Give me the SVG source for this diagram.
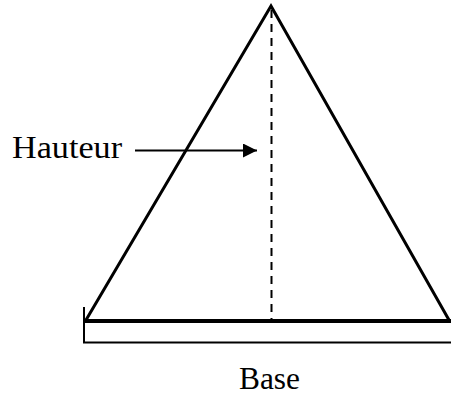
<svg xmlns="http://www.w3.org/2000/svg" width="451" height="396" viewBox="0 0 451 396">
<style>
.lbl{font-family:"Liberation Serif","Times New Roman",serif;font-size:32px;fill:#000}
.ln{stroke:#000;fill:none}
</style>
<defs>
<marker id="ah" markerUnits="userSpaceOnUse" markerWidth="16" markerHeight="16" refX="14" refY="7" orient="auto">
<path d="M0,0 L14,7 L0,14 Z" fill="#000"/>
</marker>
</defs>
<rect width="451" height="396" fill="#fff"/>
<g id="triangle">
<path class="ln" d="M86,320 L271,6 L449,320" stroke-width="3" stroke-linejoin="miter"/>
<line class="ln" x1="271.5" y1="8" x2="271.5" y2="320" stroke-width="2" stroke-dasharray="8 6" stroke-dashoffset="-2"/>
</g>
<g id="base">
<line class="ln" x1="85" y1="321" x2="451" y2="321" stroke-width="4"/>
<path class="ln" d="M84,307 L84,342.5 L451,342.5" stroke-width="2"/>
<text class="lbl" x="239" y="389" textLength="61" lengthAdjust="spacingAndGlyphs">Base</text>
</g>
<g id="hauteur">
<text class="lbl" x="12" y="158" textLength="110" lengthAdjust="spacingAndGlyphs">Hauteur</text>
</g>
<g id="connectors">
<line class="ln" x1="135" y1="150.5" x2="257" y2="150.5" stroke-width="2" marker-end="url(#ah)"/>
</g>
</svg>
